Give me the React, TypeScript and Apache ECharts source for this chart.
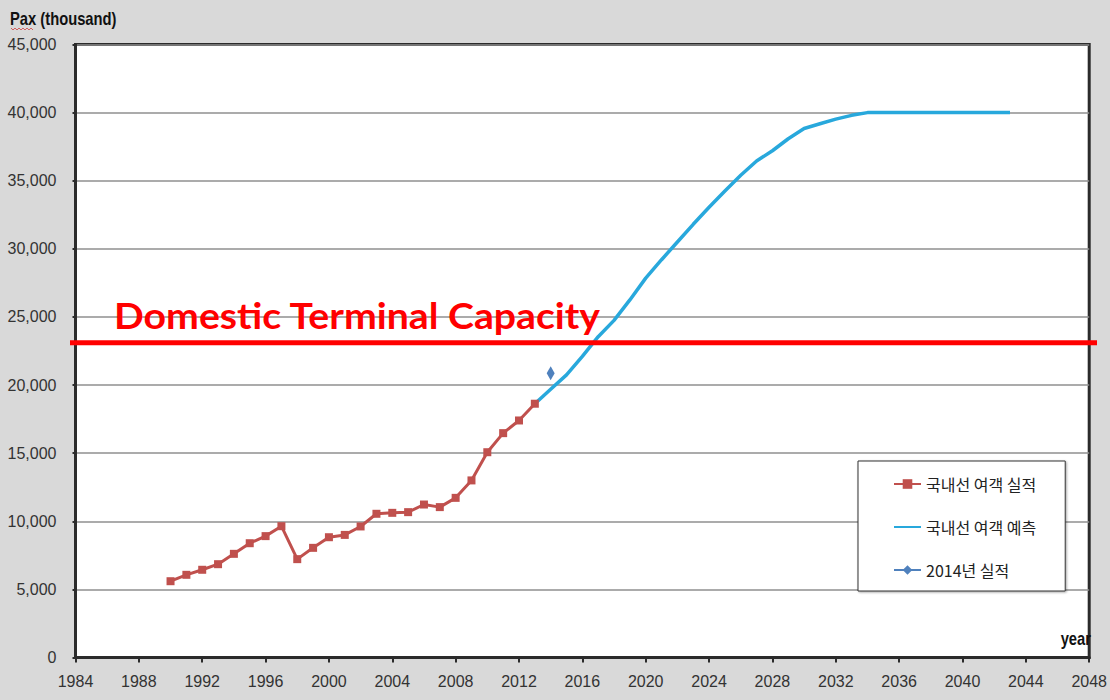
import React, { useEffect, useRef } from "react";
import * as echarts from "echarts";

const actualYears = [1990, 1991, 1992, 1993, 1994, 1995, 1996, 1997, 1998, 1999, 2000, 2001, 2002, 2003, 2004, 2005, 2006, 2007, 2008, 2009, 2010, 2011, 2012, 2013];
const actualValues = [5600, 6070, 6440, 6850, 7610, 8390, 8910, 9640, 7220, 8050, 8830, 9000, 9620, 10550, 10620, 10670, 11230, 11040, 11720, 13000, 15070, 16470, 17400, 18630];

const forecastYears = [2013, 2014, 2015, 2016, 2017, 2018, 2019, 2020, 2021, 2022, 2023, 2024, 2025, 2026, 2027, 2028, 2029, 2030, 2031, 2032, 2033, 2034, 2035, 2036, 2037, 2038, 2039, 2040, 2041, 2042, 2043];
const forecastValues = [18630, 19690, 20750, 22100, 23550, 24750, 26250, 27850, 29200, 30500, 31800, 33050, 34250, 35400, 36450, 37200, 38080, 38830, 39180, 39520, 39800, 40000, 40000, 40000, 40000, 40000, 40000, 40000, 40000, 40000, 40000];

const point2014Years = [2014];
const point2014Values = [20870];

const capacityValue = 23100;
const capacityLabel = "Domestic Terminal Capacity";

const seriesNames = ["국내선 여객 실적", "국내선 여객 예측", "2014년 실적"];
const yAxisTitle = "Pax (thousand)";
const xAxisTitle = "year";

const SANS = '"Liberation Sans", Arial, sans-serif';

const zip = (xs: number[], ys: number[]) => xs.map((x, i) => [x, ys[i]]);

export default function App() {
  const ref = useRef<HTMLDivElement>(null);

  useEffect(() => {
    document.body.style.margin = "0";
    if (!ref.current) return;
    const chart = echarts.init(ref.current, null, { renderer: "svg" });
    const axisColor = "#2b2b2b";
    chart.setOption({
      animation: false,
      backgroundColor: "#d9d9d9",
      grid: {
        left: 75.5,
        right: 17.5,
        top: 44.5,
        bottom: 42.5,
        show: true,
        backgroundColor: "#ffffff",
        borderColor: axisColor,
        borderWidth: 3,
      },
      xAxis: {
        type: "value",
        min: 1984,
        max: 2048,
        interval: 4,
        axisLine: { show: true, lineStyle: { color: axisColor, width: 3 } },
        axisTick: { show: true, length: 5, lineStyle: { color: axisColor, width: 2 } },
        splitLine: { show: false },
        axisLabel: {
          margin: 16,
          color: "#333",
          fontSize: 16,
          fontFamily: SANS,
          formatter: (v: number) => String(v),
        },
      },
      yAxis: {
        type: "value",
        min: 0,
        max: 45000,
        interval: 5000,
        axisLine: { show: true, lineStyle: { color: axisColor, width: 3 } },
        axisTick: { show: true, length: 3, lineStyle: { color: axisColor, width: 2 } },
        splitLine: { show: true, lineStyle: { color: "#8f8f8f", width: 1.5 } },
        axisLabel: {
          margin: 19,
          color: "#333",
          fontSize: 16,
          fontFamily: SANS,
          formatter: (v: number) => v.toLocaleString("en-US"),
        },
      },
      legend: {
        orient: "vertical",
        left: 858,
        top: 461,
        padding: [15, 29, 13, 35],
        itemGap: 27,
        itemWidth: 27,
        itemHeight: 12,
        backgroundColor: "#ffffff",
        borderColor: "#333",
        borderWidth: 1,
        shadowColor: "rgba(0,0,0,0.35)",
        shadowBlur: 2,
        shadowOffsetX: 1,
        shadowOffsetY: 1,
        textStyle: { fontFamily: '"Noto Sans CJK KR", sans-serif', fontSize: 16, color: "#222" },
        data: [
          { name: seriesNames[0] },
          { name: seriesNames[1], itemStyle: { color: "rgba(0,0,0,0)", opacity: 0 } },
          { name: seriesNames[2] },
        ],
      },
      series: [
        {
          name: seriesNames[0],
          type: "line",
          data: zip(actualYears, actualValues),
          symbol: "rect",
          symbolSize: 8,
          lineStyle: { color: "#c0504d", width: 3 },
          itemStyle: { color: "#c0504d" },
          z: 4,
        },
        {
          name: seriesNames[1],
          type: "line",
          data: zip(forecastYears, forecastValues),
          symbol: "none",
          lineStyle: { color: "#28a8dc", width: 3.5 },
          itemStyle: { color: "#28a8dc" },
          z: 3,
        },
        {
          name: seriesNames[2],
          type: "line",
          data: zip(point2014Years, point2014Values),
          symbol: "diamond",
          symbolSize: [8, 14],
          lineStyle: { color: "#4f81bd", width: 3 },
          itemStyle: { color: "#4f81bd" },
          z: 5,
        },
      ],
    });

    const capY = chart.convertToPixel({ yAxisIndex: 0 }, capacityValue) as number;
    chart.setOption({
      graphic: [
        {
          type: "text",
          x: 10,
          y: 18,
          scaleX: 0.82,
          style: {
            text: yAxisTitle,
            fontFamily: SANS,
            fontWeight: "bold",
            fontSize: 18,
            fill: "#111",
            textVerticalAlign: "middle",
          },
        },
        {
          type: "polyline",
          shape: { points: [[11, 28], [13, 30], [15, 28], [17, 30], [19, 28], [21, 30], [23, 28], [25, 30], [27, 28], [29, 30], [31, 28], [33, 30]] },
          style: { stroke: "#d04040", lineWidth: 0.8, fill: null },
        },
        {
          type: "text",
          x: 1091,
          y: 638,
          scaleX: 0.82,
          style: {
            text: xAxisTitle,
            fontFamily: SANS,
            fontWeight: "bold",
            fontSize: 18,
            fill: "#111",
            textAlign: "right",
            textVerticalAlign: "middle",
          },
          z: 10,
        },
        {
          type: "line",
          shape: { x1: 70, y1: capY, x2: 1097, y2: capY },
          style: { stroke: "#ff0000", lineWidth: 5 },
          z: 20,
        },
        {
          type: "text",
          x: 114,
          y: 314,
          scaleX: 1.06,
          style: {
            text: capacityLabel,
            fontFamily: "Lato, sans-serif",
            fontWeight: "bold",
            fontSize: 37,
            fill: "#ff0000",
            textVerticalAlign: "middle",
          },
          z: 20,
        },
      ],
    });

    return () => chart.dispose();
  }, []);

  return <div ref={ref} style={{ width: 1110, height: 700, background: "#d9d9d9" }} />;
}
